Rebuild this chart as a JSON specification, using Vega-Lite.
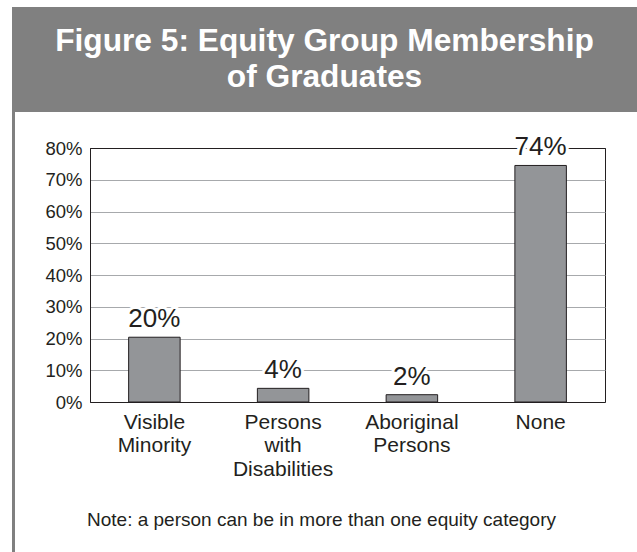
{
  "$schema": "https://vega.github.io/schema/vega-lite/v6.json",
  "background": "white",
  "padding": {"left": 12, "top": 7, "right": 0, "bottom": 0},
  "config": {
    "font": "Liberation Sans",
    "view": {"stroke": null}
  },
  "spacing": 0,
  "vconcat": [
    {
      "width": 625,
      "height": 105,
      "view": {"fill": "#808080", "stroke": null},
      "data": {"values": [{"title": "Figure 5: Equity Group Membership\nof Graduates"}]},
      "mark": {
        "type": "text",
        "lineBreak": "\n",
        "fontSize": 31.7,
        "fontWeight": "bold",
        "color": "white",
        "baseline": "top",
        "align": "center",
        "lineHeight": 36,
        "dy": -34
      },
      "encoding": {"text": {"field": "title", "type": "nominal"}}
    },
    {
      "spacing": 0,
      "hconcat": [
        {
          "width": 3,
          "height": 440,
          "view": {"fill": "#808080", "stroke": null},
          "data": {"values": []},
          "mark": "text",
          "encoding": {}
        },
        {
          "spacing": 20,
          "vconcat": [
            {
              "width": 1,
              "height": 1,
              "view": {"stroke": null},
              "data": {"values": []},
              "mark": "text",
              "encoding": {}
            },
            {
              "width": 515,
              "height": 254,
              "view": {"stroke": "#231f20", "strokeWidth": 1},
              "title": {
                "text": "Note: a person can be in more than one equity category",
                "orient": "bottom",
                "anchor": "middle",
                "frame": "group",
                "dx": -26,
                "fontSize": 19,
                "fontWeight": "normal",
                "color": "#231f20",
                "offset": 32
              },
              "data": {
                "values": [
                  {"category": "Visible Minority", "value": 0.204, "label": "20%"},
                  {"category": "Persons with Disabilities", "value": 0.043, "label": "4%"},
                  {"category": "Aboriginal Persons", "value": 0.023, "label": "2%"},
                  {"category": "None", "value": 0.745, "label": "74%"}
                ]
              },
              "encoding": {
                "x": {
                  "field": "category",
                  "type": "nominal",
                  "sort": null,
                  "scale": {"paddingInner": 0.6, "paddingOuter": 0.3},
                  "axis": {
                    "title": null,
                    "labelAngle": 0,
                    "labelExpr": "split(datum.label, ' ')",
                    "labelFontSize": 21,
                    "labelLineHeight": 23.5,
                    "labelColor": "#231f20",
                    "labelPadding": 9,
                    "ticks": false,
                    "domainColor": "#231f20",
                    "grid": false
                  }
                },
                "y": {
                  "field": "value",
                  "type": "quantitative",
                  "scale": {"domain": [0, 0.8], "nice": false},
                  "axis": {
                    "title": null,
                    "format": ".0%",
                    "values": [0, 0.1, 0.2, 0.3, 0.4, 0.5, 0.6, 0.7, 0.8],
                    "labelFontSize": 18.5,
                    "labelColor": "#231f20",
                    "labelPadding": 8,
                    "minExtent": 74,
                    "ticks": false,
                    "domainColor": "#231f20",
                    "grid": true,
                    "gridColor": {"condition": {"test": "datum.value >= 0.79", "value": "#231f20"}, "value": "#a7a9ac"},
                    "gridOpacity": 1
                  }
                }
              },
              "layer": [
                {"mark": {"type": "bar", "fill": "#939598", "stroke": "#231f20", "strokeWidth": 1}},
                {
                  "mark": {"type": "text", "fontSize": 26, "baseline": "alphabetic", "dy": -10, "fill": "white", "stroke": "white", "strokeWidth": 6, "strokeJoin": "round"},
                  "encoding": {"text": {"field": "label", "type": "nominal"}}
                },
                {
                  "mark": {"type": "text", "fontSize": 26, "baseline": "alphabetic", "dy": -10, "fill": "#231f20"},
                  "encoding": {"text": {"field": "label", "type": "nominal"}}
                }
              ]
            }
          ]
        }
      ]
    }
  ]
}
